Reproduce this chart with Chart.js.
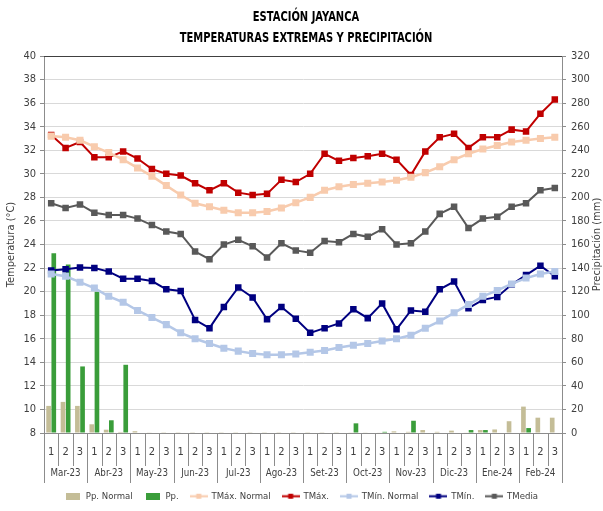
<!DOCTYPE html>
<html>
<head>
<meta charset="utf-8">
<script src="https://cdn.jsdelivr.net/npm/chart.js@4.4.0/dist/chart.umd.min.js"></script>
<style>
  html, body { margin: 0; padding: 0; background: #fff; }
</style>
</head>
<body>
<canvas id="chart" width="603" height="511"></canvas>
<script>
'use strict'

const months = ['Mar-23', 'Abr-23', 'May-23', 'Jun-23', 'Jul-23', 'Ago-23',
  'Set-23', 'Oct-23', 'Nov-23', 'Dic-23', 'Ene-24', 'Feb-24']
const dekads = months.flatMap(() => ['1', '2', '3'])

const ppNormal = [23, 26.4, 23, 7.4, 2.8, 0.9, 1.5, 0.3, 0.2, 0.2, 0.2, 0.2,
  0.2, 0.2, 0.2, 0.2, 0.2, 0.2, 0.2, 0.2, 0.2, 0.3, 0.3, 0.5,
  1.4, 1, 2.5, 1, 2, 0.5, 2.5, 3, 10, 22.4, 13, 13]
const pp = [152.6, 143, 56.5, 120, 10.8, 57.9, 0, 0, 0, 0, 0, 0,
  0, 0, 0, 0, 0, 0, 0, 0, 0, 8.2, 0, 1,
  0, 10.4, 0, 0, 0, 2.5, 2.5, 0, 0, 4.2, 0, 0]
const tmaxNormal = [33.2, 33.1, 32.85, 32.3, 31.8, 31.2, 30.5, 29.8, 29.0, 28.2, 27.5, 27.2,
  26.9, 26.7, 26.7, 26.8, 27.1, 27.55, 28.0, 28.6, 28.9, 29.1, 29.2, 29.3,
  29.45, 29.7, 30.1, 30.6, 31.2, 31.7, 32.1, 32.4, 32.7, 32.85, 33.0, 33.1]
const tmax = [33.3, 32.2, 32.7, 31.4, 31.4, 31.9, 31.3, 30.4, 30.0, 29.85, 29.2, 28.6,
  29.2, 28.4, 28.2, 28.3, 29.5, 29.3, 30.0, 31.7, 31.1, 31.35, 31.5, 31.7,
  31.2, 29.9, 31.9, 33.1, 33.4, 32.2, 33.1, 33.1, 33.75, 33.6, 35.1, 36.3]
const tminNormal = [21.5, 21.3, 20.8, 20.3, 19.6, 19.1, 18.4, 17.8, 17.2, 16.5, 16.0, 15.6,
  15.2, 14.95, 14.75, 14.65, 14.65, 14.7, 14.85, 15.0, 15.25, 15.45, 15.6, 15.8,
  16.0, 16.3, 16.9, 17.5, 18.2, 18.9, 19.6, 20.1, 20.65, 21.15, 21.5, 21.7]
const tmin = [21.8, 21.9, 22.05, 22.0, 21.7, 21.1, 21.1, 20.9, 20.2, 20.05, 17.6, 16.9,
  18.7, 20.35, 19.5, 17.65, 18.7, 17.7, 16.5, 16.9, 17.3, 18.5, 17.75, 19.0,
  16.8, 18.4, 18.3, 20.2, 20.85, 18.6, 19.3, 19.55, 20.6, 21.4, 22.2, 21.3]
const tmedia = [27.5, 27.1, 27.4, 26.7, 26.5, 26.5, 26.2, 25.65, 25.1, 24.9, 23.4, 22.75,
  24.0, 24.4, 23.85, 22.9, 24.1, 23.5, 23.3, 24.3, 24.2, 24.9, 24.65, 25.3,
  24.0, 24.1, 25.1, 26.6, 27.2, 25.4, 26.2, 26.35, 27.2, 27.5, 28.6, 28.8]

const FONT = "'Liberation Sans Narrow', 'DejaVu Sans Condensed', 'Liberation Sans', sans-serif"
const TEXT = '#404040'
Chart.defaults.font.family = FONT
Chart.defaults.color = TEXT

// little canvases for the legend swatches
function boxSwatch (color) {
  const c = document.createElement('canvas')
  c.width = 14
  c.height = 7
  const g = c.getContext('2d')
  g.fillStyle = color
  g.fillRect(0, 0, 14, 7)
  return c
}

function lineSwatch (color) {
  const c = document.createElement('canvas')
  c.width = 18
  c.height = 7
  const g = c.getContext('2d')
  g.fillStyle = color
  g.fillRect(0, 2.5, 18, 2)
  g.fillRect(6.5, 1, 5, 5)
  return c
}

function lineSet (label, data, color, width) {
  return {
    type: 'line',
    label,
    data,
    yAxisID: 'y',
    borderColor: color,
    backgroundColor: color,
    borderWidth: width,
    pointStyle: 'rect',
    pointRadius: 3.2,
    pointHoverRadius: 3.2,
    tension: 0,
    order: 0,
    swatch: lineSwatch(color)
  }
}

// narrow text, like the condensed font of the original
function squeezedText (ctx, text, x, y, sx) {
  ctx.save()
  ctx.translate(x, y)
  ctx.scale(sx, 1)
  ctx.fillText(text, 0, 0)
  ctx.restore()
}

const decorations = {
  id: 'decorations',
  afterDraw (chart) {
    const { ctx, chartArea } = chart
    const xs = chart.scales.x
    const step = (chartArea.right - chartArea.left) / dekads.length
    const bottom = chartArea.bottom
    ctx.save()
    ctx.lineWidth = 1
    ctx.strokeStyle = '#404040'
    ctx.beginPath()
    ctx.moveTo(chartArea.left, chartArea.top + 0.5)
    ctx.lineTo(chartArea.right, chartArea.top + 0.5)
    ctx.stroke()

    ctx.strokeStyle = '#8c8c8c'
    for (let i = 0; i <= dekads.length; i++) {
      const px = Math.round(chartArea.left + i * step) + 0.5
      const len = i % 3 === 0 ? 50 : 33
      ctx.beginPath()
      ctx.moveTo(px, bottom)
      ctx.lineTo(px, bottom + len)
      ctx.stroke()
    }

    ctx.fillStyle = TEXT
    ctx.textAlign = 'center'
    ctx.textBaseline = 'middle'
    ctx.font = '11px ' + FONT
    months.forEach((m, j) => {
      const cx = (xs.getPixelForValue(3 * j) + xs.getPixelForValue(3 * j + 2)) / 2
      squeezedText(ctx, m, cx, bottom + 40, 0.88)
    })

    ctx.font = 'bold 14px ' + FONT
    ctx.fillStyle = '#000'
    squeezedText(ctx, 'ESTACIÓN JAYANCA', 306, 17, 0.79)
    squeezedText(ctx, 'TEMPERATURAS EXTREMAS Y PRECIPITACIÓN', 306, 38, 0.79)

    ctx.font = '11px ' + FONT
    ctx.fillStyle = TEXT
    const midY = (chartArea.top + chartArea.bottom) / 2
    ctx.translate(11, midY)
    ctx.rotate(-Math.PI / 2)
    ctx.fillText('Temperatura (°C)', 0, 0)
    ctx.rotate(Math.PI / 2)
    ctx.translate(597 - 11, 0)
    ctx.rotate(-Math.PI / 2)
    ctx.fillText('Precipitación (mm)', 0, 0)
    ctx.restore()
  }
}

new Chart(document.getElementById('chart'), {
  data: {
    labels: dekads,
    datasets: [
      {
        type: 'bar',
        label: 'Pp. Normal',
        data: ppNormal,
        yAxisID: 'y2',
        backgroundColor: '#C4BD97',
        barPercentage: 0.9,
        categoryPercentage: 0.72,
        order: 1,
        swatch: boxSwatch('#C4BD97')
      },
      {
        type: 'bar',
        label: 'Pp.',
        data: pp,
        yAxisID: 'y2',
        backgroundColor: '#3A9D3A',
        barPercentage: 0.9,
        categoryPercentage: 0.72,
        order: 1,
        swatch: boxSwatch('#3A9D3A')
      },
      lineSet('TMáx. Normal', tmaxNormal, '#F8CBAD', 2.5),
      lineSet('TMáx.', tmax, '#C00000', 2),
      lineSet('TMín. Normal', tminNormal, '#B4C7E7', 2.5),
      lineSet('TMín.', tmin, '#000080', 2),
      lineSet('TMedia', tmedia, '#595959', 2)
    ]
  },
  options: {
    responsive: false,
    animation: false,
    layout: {
      padding: { top: 56, left: 0, right: 0, bottom: 0 }
    },
    plugins: {
      tooltip: { enabled: false },
      legend: {
        position: 'bottom',
        labels: {
          usePointStyle: true,
          pointStyleWidth: 16,
          padding: 12,
          font: { size: 9.5 },
          color: TEXT,
          generateLabels: (chart) => chart.data.datasets.map((ds, i) => ({
            text: ds.label,
            datasetIndex: i,
            pointStyle: ds.swatch,
            fillStyle: ds.backgroundColor,
            strokeStyle: ds.backgroundColor,
            lineWidth: 0,
            fontColor: TEXT
          })),
          sort: (a, b) => a.datasetIndex - b.datasetIndex
        }
      }
    },
    scales: {
      x: {
        offset: true,
        grid: { display: false, drawTicks: false },
        border: { display: true, color: '#8c8c8c' },
        ticks: {
          autoSkip: false,
          maxRotation: 0,
          padding: 13,
          font: { size: 11 }
        },
        afterFit: (scale) => { scale.height = 46.5 }
      },
      y: {
        position: 'left',
        min: 8,
        max: 40,
        ticks: { stepSize: 2, padding: 4, font: { size: 11 } },
        grid: { color: '#D9D9D9', tickLength: 4, tickColor: '#8c8c8c' },
        border: { color: '#8c8c8c' },
        afterFit: (scale) => { scale.width = 44 }
      },
      y2: {
        position: 'right',
        min: 0,
        max: 320,
        ticks: { stepSize: 20, padding: 5, font: { size: 11 } },
        grid: { drawOnChartArea: false, tickLength: 4, color: '#8c8c8c' },
        border: { color: '#8c8c8c' },
        afterFit: (scale) => { scale.width = 41 }
      }
    }
  },
  plugins: [decorations]
})
</script>
</body>
</html>
